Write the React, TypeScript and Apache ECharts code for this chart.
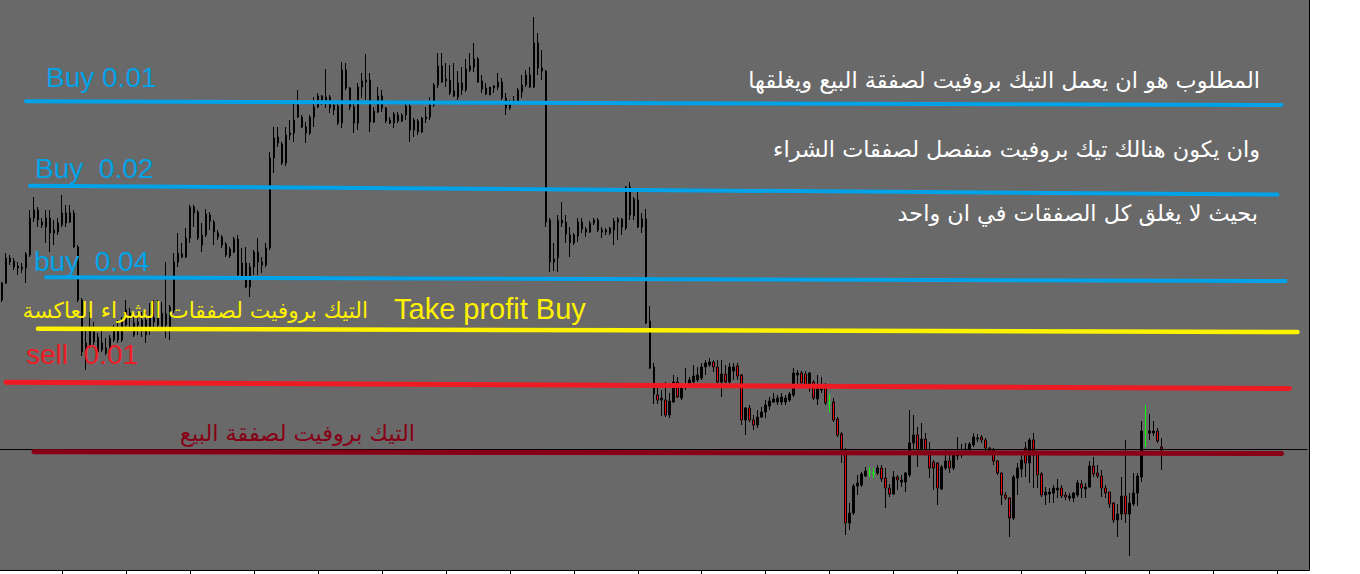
import React, { useEffect, useRef } from 'react';
import * as echarts from 'echarts';

// ---------- data ----------
const barCount = 327;
const categories: string[] = Array.from({ length: barCount }, (_, i) => String(i));

// [open, close, low, high]
const candles: number[][] = [
  [300,317,298,318],[317,342,316,347],[342,338,335,345],[339,333,330,342],[332,334,325,338],
  [333,331,327,337],[332,346,317,348],[345,382,343,390],[382,390,378,403],[390,380,373,393],
  [378,375,372,382],[373,382,357,390],[382,367,348,390],[367,370,355,380],[368,377,365,382],
  [375,387,373,405],[387,377,373,395],[378,387,377,395],[387,353,352,390],[353,300,298,355],
  [300,248,244,302],[245,257,230,270],[255,273,252,288],[268,258,255,278],[263,248,247,267],
  [250,257,248,273],[247,252,245,262],[250,262,248,265],[260,270,258,275],[270,260,257,280],
  [260,280,258,283],[275,290,273,300],[282,287,273,292],[277,265,263,287],[275,278,265,287],
  [270,280,263,288],[280,265,257,288],[270,283,265,297],[282,278,270,300],[275,285,272,300],
  [287,273,270,298],[286,275,262,338],[273,293,260,295],[290,338,287,347],[338,347,333,367],
  [346,343,342,357],[343,362,342,372],[362,393,357,395],[393,387,373,395],[388,362,360,390],
  [355,365,348,377],[365,386,363,391],[385,379,370,388],[378,368,355,380],[367,363,360,370],
  [363,355,352,365],[356,345,343,358],[344,351,342,353],[348,361,347,363],[361,325,323,365],
  [323,337,320,352],[337,313,312,353],[313,333,303,337],[333,348,325,350],[348,338,325,362],
  [338,335,327,343],[335,352,333,357],[352,442,350,448],[442,462,427,473],[463,457,453,473],
  [456,437,435,458],[437,465,434,473],[465,467,460,480],[467,480,458,497],[495,483,482,510],
  [483,473,472,485],[473,467,457,478],[467,483,465,485],[483,493,473,503],[493,504,492,507],
  [504,500,495,505],[497,503,492,531],[503,492,487,505],[490,495,485,497],[494,477,475,497],
  [477,530,472,538],[530,512,510,537],[512,493,490,513],[493,477,467,498],[477,513,470,517],
  [513,519,502,527],[518,520,500,546],[520,478,468,527],[478,489,477,493],[488,504,487,513],
  [504,492,488,510],[492,479,477,493],[480,477,476,483],[477,486,472,488],[485,479,477,488],
  [479,485,478,487],[485,494,480,497],[494,470,458,497],[470,480,463,482],[479,468,465,481],
  [468,482,467,483],[481,483,477,493],[483,495,480,503],[495,515,493,517],[515,534,512,547],
  [534,518,517,547],[519,521,513,537],[520,507,505,535],[509,504,503,537],[503,517,500,529],
  [517,510,505,533],[510,531,508,541],[530,534,528,547],[533,541,528,557],[541,518,517,543],
  [519,511,507,525],[506,512,505,517],[505,513,505,513],[512,514,507,515],[513,518,510,527],
  [518,502,500,522],[502,492,485,507],[492,497,490,500],[497,499,495,504],[499,510,497,512],
  [508,515,502,525],[515,525,513,530],[525,513,512,533],[513,557,512,583],[557,532,525,567],
  [532,529,520,550],[529,378,373,530],[380,338,328,382],[338,341,329,357],[342,380,328,385],
  [380,377,373,398],[378,366,357,385],[365,357,343,373],[357,365,355,367],[364,378,358,382],
  [378,371,367,382],[371,368,363,373],[368,377,367,379],[377,380,375,382],[380,370,368,382],
  [368,370,362,373],[370,368,365,372],[367,372,365,373],[370,379,355,382],[378,381,360,383],
  [381,373,365,382],[372,413,370,414],[413,385,380,418],[384,401,380,403],[400,373,372,408],
  [373,381,367,387],[381,277,276,391],[279,232,231,294],[233,206,196,237],[205,200,196,212],
  [200,202,184,210],[200,185,183,218],[185,199,182,207],[198,218,197,225],[218,203,202,223],
  [202,213,200,217],[214,215,210,232],[216,220,215,223],[218,224,217,235],[220,225,218,233],
  [222,233,220,237],[233,237,225,240],[235,238,233,242],[238,233,228,240],[233,218,217,240],
  [218,226,203,240],[226,218,217,235],[218,233,212,237],[229,233,220,237],[234,224,220,237],
  [225,180,175,226],[180,192,165,193],[192,180,178,195],[180,175,170,185],[175,183,172,190],
  [183,188,182,193],[188,195,182,200],[194,199,190,203],[198,201,197,207],[198,202,195,205],
  [198,203,195,207],[198,202,195,205],[200,206,198,208],[205,227,203,232],[225,227,213,230],
  [227,217,213,229],[226,215,212,229],[212,227,208,228],[218,202,200,220],[201,215,195,225],
  [210,212,207,223],[213,197,195,217],[197,197,188,206],[198,180,178,202],[181,165,163,183],
  [166,150,137,168],[150,77,65,152],[77,87,70,97],[87,114,85,116],[114,117,105,125],
  [115,126,113,128],[124,129,123,133],[128,128,123,133],[127,127,122,132],[127,132,125,135],
  [132,121,118,135],[122,112,92,132],[112,106,103,116],[106,123,105,129],[123,120,110,125],
  [118,120,113,125],[118,127,108,128],[125,157,123,190],[157,165,150,185],[165,150,133,173],
  [150,161,145,177],[161,150,145,167],[145,132,122,158],[138,132,110,140],[137,112,95,138],
  [111,133,110,135],[132,139,130,150],[139,132,127,145],[132,145,130,147],[144,147,140,163],
  [145,148,142,156],[150,151,147,157],[150,156,148,158],[155,163,153,167],[161,162,158,166],
  [163,160,157,165],[160,152,147,162],[152,149,147,153],[150,139,135,152],[139,127,125,140],
  [127,105,95,128],[105,102,100,108],[102,82,63,103],[82,123,80,125],[122,132,105,137],
  [131,140,123,147],[152,137,123,158],[137,160,117,162],[160,145,112,167],[145,125,112,147],
  [126,105,103,128],[105,108,95,113],[106,108,97,112],[107,112,97,115],[110,112,102,121],
  [112,104,102,115],[105,103,100,108],[102,104,99,107],[102,107,98,108],[105,117,103,120],
  [116,112,102,120],[111,113,102,117],[113,134,112,139],[134,126,123,143],[127,124,122,135],
  [124,112,103,130],[112,107,102,115],[108,96,92,108],[97,80,77,98],[80,86,63,96],
  [86,104,80,123],[104,86,77,160],[86,97,44,107],[96,107,94,127],[107,124,94,127],
  [123,169,118,179],[168,168,153,195],[167,169,160,186],[167,169,164,179],[169,159,157,172],
  [153,150,130,162],
];

const bidPrice = 150.5;

// hand-drawn level lines
const levelStartBar = [6, 7, 11, 9, 1, 8];
const levelEndBar = [320, 319, 321, 324, 322, 320];
const levelStartPrice = [498.7, 414.3, 322.7, 271.3, 217.7, 148.3];
const levelEndPrice = [495.0, 405.5, 319.0, 268.0, 211.5, 146.5];
const levelColors = ['#00a2e8', '#00a2e8', '#00a2e8', '#fff200', '#ed1c24', '#880015'];
const levelWidths = [4, 4, 4, 4.5, 5, 5];

const NB = '\u00a0';
const latinLabels = ['Buy 0.01', 'Buy ' + NB + '0.02', 'buy ' + NB + '0.04', 'sell ' + NB + '0.01', 'Take profit Buy'];
const arabicNotes = [
  'المطلوب هو ان يعمل التيك بروفيت لصفقة البيع ويغلقها',
  'وان يكون هنالك تيك بروفيت منفصل لصفقات الشراء',
  'بحيث لا يغلق كل الصفقات في ان واحد',
];
const arabicBuyTp = 'التيك بروفيت لصفقات الشراء العاكسة';
const arabicSellTp = 'التيك بروفيت لصفقة البيع';

export default function App() {
  const ref = useRef<HTMLDivElement>(null);

  useEffect(() => {
    document.body.style.margin = '0';
    if (!ref.current) return;
    const chart = echarts.init(ref.current, undefined, { renderer: 'svg' });

    const markData: any[] = [
      {
        yAxis: bidPrice,
        lineStyle: { color: '#000000', width: 1, type: 'solid' },
      },
    ];
    levelColors.forEach((c, k) => {
      markData.push([
        { coord: [levelStartBar[k], levelStartPrice[k]], lineStyle: { color: c, width: levelWidths[k], type: 'solid', cap: 'round' } },
        { coord: [levelEndBar[k], levelEndPrice[k]] },
      ]);
    });

    const latinFont = '28px "Liberation Sans", Arial, sans-serif';
    const arFont = '22.4px "DejaVu Sans", sans-serif';

    const option: any = {
      animation: false,
      backgroundColor: '#ffffff',
      grid: { left: -0.5, top: 0, width: 1308, height: 570 },
      xAxis: {
        type: 'category',
        data: categories,
        boundaryGap: true,
        axisLine: { show: false },
        axisLabel: { show: false },
        axisTick: {
          show: true,
          alignWithLabel: true,
          length: 5,
          interval: (idx: number) => idx % 16 === 15,
          lineStyle: { color: '#000000', width: 1 },
        },
        splitLine: { show: false },
      },
      yAxis: {
        type: 'value',
        min: 30,
        max: 600,
        show: false,
        splitLine: { show: false },
      },
      graphic: [
        {
          type: 'rect',
          z: -10,
          silent: true,
          shape: { x: -2, y: -2, width: 1311.5, height: 572.5 },
          style: { fill: '#696969', stroke: '#000000', lineWidth: 1 },
        },
        { type: 'text', z: 100, x: 46, y: 77.5, style: { text: latinLabels[0], font: latinFont, fill: '#00a2e8', verticalAlign: 'middle' } },
        { type: 'text', z: 100, x: 35, y: 168.3, style: { text: latinLabels[1], font: latinFont, fill: '#00a2e8', verticalAlign: 'middle' } },
        { type: 'text', z: 100, x: 34, y: 261.7, style: { text: latinLabels[2], font: latinFont, fill: '#00a2e8', verticalAlign: 'middle' } },
        { type: 'text', z: 100, x: 26, y: 354.5, style: { text: latinLabels[3], font: latinFont, fill: '#ed1c24', verticalAlign: 'middle' } },
        { type: 'text', z: 100, x: 394, y: 309, style: { text: latinLabels[4], font: '29px "Liberation Sans", Arial, sans-serif', fill: '#fff200', verticalAlign: 'middle' } },
        { type: 'text', z: 100, x: 368, y: 310, style: { text: arabicBuyTp, font: '21.8px "DejaVu Sans", sans-serif', fill: '#fff200', align: 'right', verticalAlign: 'middle' } },
        { type: 'text', z: 100, x: 415, y: 433, style: { text: arabicSellTp, font: arFont, fill: '#880015', align: 'right', verticalAlign: 'middle' } },
        { type: 'text', z: 100, x: 1260, y: 80, style: { text: arabicNotes[0], font: arFont, fill: '#ffffff', align: 'right', verticalAlign: 'middle' } },
        { type: 'text', z: 100, x: 1260, y: 149, style: { text: arabicNotes[1], font: arFont, fill: '#ffffff', align: 'right', verticalAlign: 'middle' } },
        { type: 'text', z: 100, x: 1258, y: 213, style: { text: arabicNotes[2], font: arFont, fill: '#ffffff', align: 'right', verticalAlign: 'middle' } },
      ],
      series: [
        {
          type: 'candlestick',
          data: candles,
          barWidth: 2,
          z: 3,
          itemStyle: {
            color: '#000000',
            color0: '#f00000',
            borderColor: '#000000',
            borderColor0: '#000000',
            borderColorDoji: '#00ff00',
            borderWidth: 1,
          },
          markLine: {
            silent: true,
            symbol: ['none', 'none'],
            label: { show: false },
            emphasis: { disabled: true },
            data: markData,
          },
        },
      ],
    };

    chart.setOption(option);
    return () => chart.dispose();
  }, []);

  return <div ref={ref} style={{ width: 1360, height: 574 }} />;
}
